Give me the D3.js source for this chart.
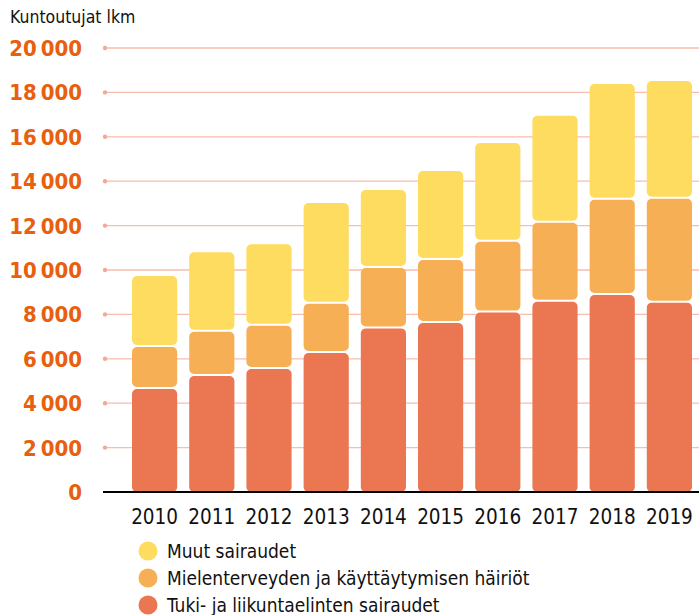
<!DOCTYPE html>
<html>
<head>
<meta charset="utf-8">
<script src="https://cdn.jsdelivr.net/npm/d3@7"></script>
<style>
  body { margin: 0; background: #fff; }
  svg { display: block; }
</style>
</head>
<body>
<svg id="chart" width="699" height="615"></svg>
<script>
// Data
const years = ['2010', '2011', '2012', '2013', '2014', '2015', '2016', '2017', '2018', '2019'];
const tuki = [4640, 5225, 5540, 6260, 7370, 7610, 8080, 8570, 8870, 8530];
const mieli = [1890, 1995, 1950, 2220, 2720, 2840, 3195, 3560, 4300, 4680];
const muut = [3200, 3580, 3670, 4540, 3510, 4010, 4445, 4820, 5210, 5300];
const yTicks = [0, 2000, 4000, 6000, 8000, 10000, 12000, 14000, 16000, 18000, 20000];
const seriesNames = ['Tuki- ja liikuntaelinten sairaudet', 'Mielenterveyden ja käyttäytymisen häiriöt', 'Muut sairaudet'];
const seriesColors = ['#EA7652', '#F7AF55', '#FDDC5F'];

const svg = d3.select('#chart');
const condensed = '"DejaVu Sans Condensed", "Liberation Sans Narrow", sans-serif';

const x = d3.scaleBand()
  .domain(years)
  .range([126, 698])
  .paddingInner(0.21)
  .paddingOuter(0.105);

const y = d3.scaleLinear()
  .domain([0, 20000])
  .range([492, 48]);

// Title
svg.append('text')
  .attr('x', 10)
  .attr('y', 23)
  .attr('font-family', condensed)
  .attr('font-size', 17.5)
  .attr('fill', '#111')
  .text('Kuntoutujat lkm');

// Gridlines with dots
const grid = svg.append('g').attr('class', 'grid');
grid.selectAll('line')
  .data(yTicks.filter(d => d > 0))
  .join('line')
  .attr('x1', 105)
  .attr('x2', 699)
  .attr('y1', d => y(d))
  .attr('y2', d => y(d))
  .attr('stroke', '#F7BDAE')
  .attr('stroke-width', 1.3);
grid.selectAll('circle')
  .data(yTicks.filter(d => d > 0))
  .join('circle')
  .attr('cx', 105)
  .attr('cy', d => y(d))
  .attr('r', 2.2)
  .attr('fill', '#F4A895');

// Y tick labels
const fmt = d => d === 0 ? '0' : d3.format(',')(d).replace(',', '\u2009');
svg.append('g')
  .selectAll('text')
  .data(yTicks)
  .join('text')
  .attr('x', 82)
  .attr('y', d => y(d))
  .attr('dy', '0.36em')
  .attr('text-anchor', 'end')
  .attr('font-family', condensed)
  .attr('font-weight', 'bold')
  .attr('font-size', 22)
  .attr('fill', '#E8600E')
  .text(fmt);

// Stacked bars
const rows = years.map((yr, i) => ({ year: yr, s0: tuki[i], s1: mieli[i], s2: muut[i] }));
const stack = d3.stack().keys(['s0', 's1', 's2'])(rows);
const gap = 2;

svg.append('g')
  .selectAll('g')
  .data(stack)
  .join('g')
  .attr('fill', (d, i) => seriesColors[i])
  .selectAll('rect')
  .data(d => d)
  .join('rect')
  .attr('x', d => x(d.data.year))
  .attr('width', x.bandwidth())
  .attr('y', d => y(d[1]))
  .attr('height', d => Math.max(0, y(d[0]) - y(d[1]) - (d[0] === 0 ? 0 : gap)))
  .attr('rx', 5)
  .attr('ry', 5);

// Baseline
svg.append('line')
  .attr('x1', 103)
  .attr('x2', 699)
  .attr('y1', y(0))
  .attr('y2', y(0))
  .attr('stroke', '#000')
  .attr('stroke-width', 2);

// Year labels
svg.append('g')
  .selectAll('text')
  .data(years)
  .join('text')
  .attr('x', d => x(d) + x.bandwidth() / 2)
  .attr('y', 524)
  .attr('text-anchor', 'middle')
  .attr('font-family', condensed)
  .attr('font-size', 20.5)
  .attr('fill', '#111')
  .text(d => d);

// Legend
const legendItems = [2, 1, 0];
const legend = svg.append('g')
  .selectAll('g')
  .data(legendItems)
  .join('g')
  .attr('transform', (d, i) => `translate(148, ${551 + i * 27})`);
legend.append('circle')
  .attr('r', 9.5)
  .attr('fill', d => seriesColors[d]);
legend.append('text')
  .attr('x', 19)
  .attr('dy', '0.35em')
  .attr('font-family', condensed)
  .attr('font-size', 19)
  .attr('fill', '#111')
  .text(d => seriesNames[d]);
</script>
</body>
</html>
